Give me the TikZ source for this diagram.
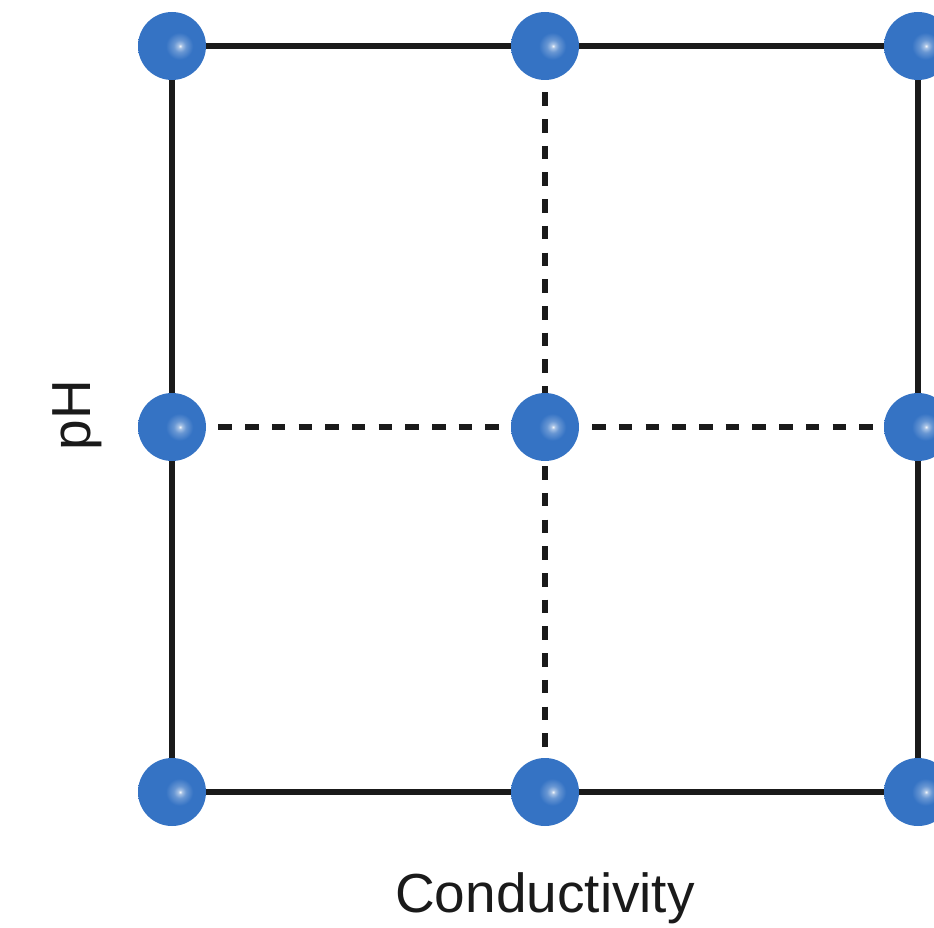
\documentclass[tikz,border=0pt]{standalone}
\usepackage{fontspec}
\setmainfont{Liberation Sans}
\definecolor{ballblue}{HTML}{3573C4}
\definecolor{linegray}{HTML}{1A1A1A}
\pgfdeclareradialshading{sphereshade}{\pgfpoint{6bp}{0bp}}{%
  color(0bp)=(white!95!ballblue);
  color(1.5bp)=(ballblue!45!white);
  color(4.5bp)=(ballblue!75!white);
  color(10bp)=(ballblue);
  color(50bp)=(ballblue);
  color(100bp)=(ballblue)}
\tikzset{
  ball/.style={circle, minimum size=68pt, inner sep=0pt, shading=sphereshade},
  solidline/.style={line width=6pt, draw=linegray},
  dashline/.style={line width=6pt, draw=linegray, dash pattern=on 13.5pt off 13.2pt, dash phase=7pt},
  lbl/.style={font=\fontsize{55}{60}\selectfont, text=linegray, inner sep=0pt}
}
\begin{document}
\begin{tikzpicture}[x=1pt,y=-1pt]
\useasboundingbox (0,0) rectangle (934,928);
\coordinate (p11) at (172,46);
\coordinate (p12) at (545,46);
\coordinate (p13) at (918,46);
\coordinate (p21) at (172,427);
\coordinate (p22) at (545,427);
\coordinate (p23) at (918,427);
\coordinate (p31) at (172,792);
\coordinate (p32) at (545,792);
\coordinate (p33) at (918,792);
\draw[solidline] (p11) -- (p13) -- (p33) -- (p31) -- cycle;
\draw[dashline] (p12) -- (p32);
\draw[dashline] (p21) -- (p23);
\foreach \n in {11,12,13,21,22,23,31,32,33}
  \node[ball] (b\n) at (p\n) {};
\node[lbl, anchor=base] (xl) at (545,912) {Conductivity};
\node[lbl, anchor=base, rotate=90] (yl) at (90,415) {pH};
\end{tikzpicture}
\end{document}
